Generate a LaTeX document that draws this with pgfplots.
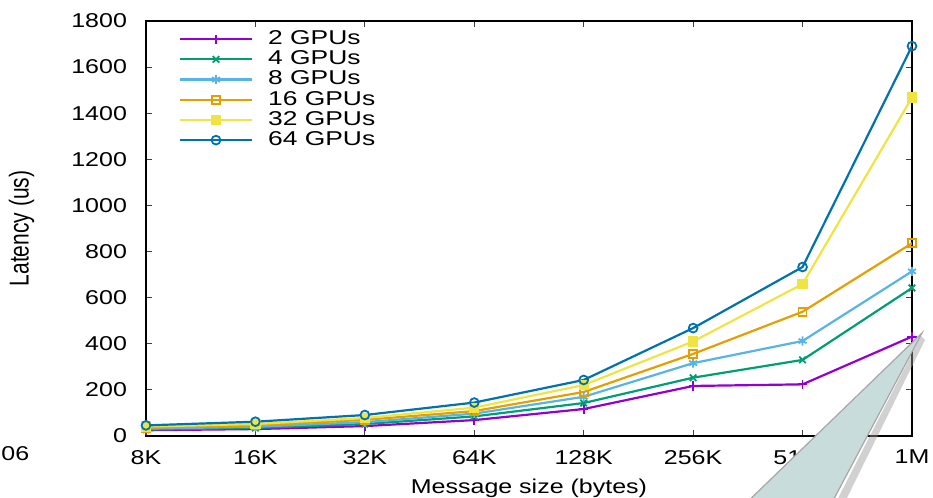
\documentclass[border=0pt]{standalone}
\usepackage{fontspec}
\setmainfont{Liberation Sans}[FakeStretch=1.25]
\newfontfamily\legfont{Liberation Sans}[FakeStretch=1.32]
\newfontfamily\labelfont{Liberation Sans}
\usepackage{pgfplots}
\pgfplotsset{compat=1.18}
\usepackage{pgfplotstable}
\definecolor{cA}{HTML}{9400D3}
\definecolor{cB}{HTML}{009E73}
\definecolor{cC}{HTML}{56B4E9}
\definecolor{cD}{HTML}{E69F00}
\definecolor{cE}{HTML}{F0E442}
\definecolor{cF}{HTML}{0072B2}
\definecolor{callout}{HTML}{C8DCDC}
\pgfplotstableread{
x g2 g4 g8 g16 g32 g64
0 25 28 32 36 41 46
1 30 35 40 46 52 62
2 43 52 60 70 78 91
3 69 85 97 108 123 145
4 117 143 170 191 221 243
5 217 253 316 356 410 468
6 224 330 412 539 659 733
7 431 642 714 836 1468 1691
}\datatable
\begin{document}
\begin{tikzpicture}
\useasboundingbox (0pt,0pt) rectangle (466.5pt,249pt);
\begin{axis}[
  at={(73pt,31pt)}, anchor=south west,
  scale only axis, width=383pt, height=207.5pt,
  xmin=0, xmax=7, ymin=0, ymax=1800,
  xtick={0,...,7}, xticklabels={8K,16K,32K,64K,128K,256K,512K,1M},
  ytick={0,200,...,1800},
  tick align=inside, major tick length=3pt,
  axis line style={line width=0.9pt},
  every tick/.style={black!75, line width=0.6pt},
  /pgf/number format/assume math mode=true,
  /pgf/number format/1000 sep={},
  font=\fontsize{10}{12}\selectfont,
  xticklabel style={yshift=-3.5pt},
  yticklabel style={xshift=-6pt},
  xlabel={Message size (bytes)},
  xlabel style={at={(axis description cs:0.5,0)}, anchor=base, yshift=-29pt},
  ylabel={\labelfont\fontsize{10.5}{12}\selectfont\scalebox{1}[1.3]{Latency (us)}},
  ylabel style={at={(axis description cs:-0.1625,0.5)}, anchor=center, rotate=0},
  legend style={at={(rel axis cs:0.043,0.977)}, anchor=north west, draw=none, fill=none,
    inner sep=0pt, outer sep=0pt,
    font=\legfont\fontsize{10}{12}\selectfont, row sep=1.5pt,
    nodes={inner sep=0pt, text height=7pt, text depth=1.6pt},
    /tikz/every odd column/.append style={column sep=7.5pt}},
  legend cell align=left,
  legend image code/.code={\draw[mark repeat=2,mark phase=2] plot coordinates {(0pt,0pt) (18pt,0pt) (36pt,0pt)};},
  every axis plot/.append style={line width=1.1pt},
]
\addplot[color=cA, mark=+, mark size=2.3pt, mark options={line width=0.9pt}] table[x=x,y=g2]{\datatable};
\addlegendentry{2 GPUs}
\addplot[color=cB, mark=x, mark size=2.3pt, mark options={line width=0.9pt}] table[x=x,y=g4]{\datatable};
\addlegendentry{4 GPUs}
\addplot[color=cC, mark=asterisk, mark size=2.3pt, mark options={line width=0.9pt}] table[x=x,y=g8]{\datatable};
\addlegendentry{8 GPUs}
\addplot[color=cD, mark=square, mark size=2pt, mark options={line width=0.9pt}] table[x=x,y=g16]{\datatable};
\addlegendentry{16 GPUs}
\addplot[color=cE, mark=square*, mark size=2pt, mark options={fill=cE}] table[x=x,y=g32]{\datatable};
\addlegendentry{32 GPUs}
\addplot[color=cF, mark=o, mark size=2.2pt, mark options={line width=0.9pt}] table[x=x,y=g64]{\datatable};
\addlegendentry{64 GPUs}
\end{axis}
\begin{scope}[x=0.5pt,y=0.5pt]
\node[anchor=west, inner sep=0pt, font=\fontsize{10}{12}\selectfont] at (1,44) {06};
\fill[black!40, opacity=0.45] (921,162) -- (832,-12) -- (841,-12) -- (925,158) -- cycle;
\fill[callout] (922,165) -- (739,-12) -- (828,-12) -- cycle;
\draw[black!35, line width=0.6pt] (739,-12) -- (922,165) -- (828,-12);
\end{scope}
\end{tikzpicture}
\end{document}
